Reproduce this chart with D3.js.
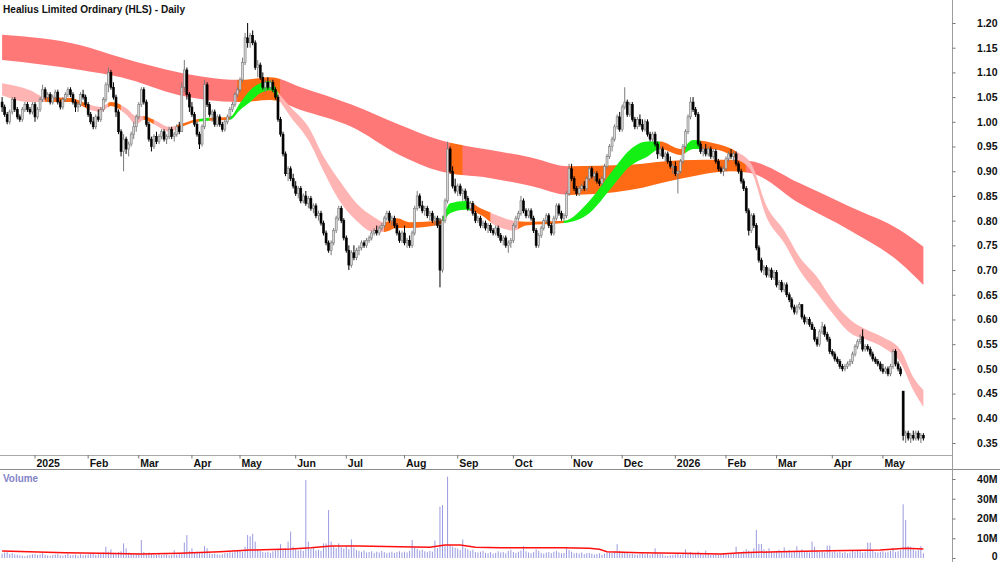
<!DOCTYPE html>
<html>
<head>
<meta charset="utf-8">
<script src="https://cdn.jsdelivr.net/npm/d3@7"></script>
<style>
body { margin: 0; background: #fff; }
svg { display: block; font-family: "Liberation Sans", Arial, sans-serif; }
</style>
</head>
<body>
<svg id="chart" width="1000" height="562"></svg>
<script>
'use strict';

// daily bars per month: [open, high, low, close] in cents, then volume in millions
var dec24 = [[104,105,102,103,2.2],[103,103.5,101,101.5,2.8],[101.5,102,99.5,100,3.0],[100,102.5,99.5,102,2.0],[102,105,101.5,104.5,2.5],[104.5,105,102,102.5,1.8],[102.5,103,100.5,101,1.6],[101,101.5,100,100.5,1.4],[100.5,103,100,102.5,1.2],[102.5,104,102,103.5,0.9],[103.5,104,102,102.5,1.3],[102.5,103,101.5,102,1.6],[102,104,101.5,103.5,1.9]];
var jan25 = [[103.5,104,100,101,2.0],[101,103,100.5,102.5,1.5],[102.5,105,102,104.5,1.8],[104.5,107.5,104,106.5,2.4],[106.5,107,104.5,105,1.6],[105,106,104,105.5,1.3],[105.5,106,103.5,104,1.1],[104,105.5,103.5,105,1.5],[105,106.5,104.5,106,1.8],[106,106.5,103.5,104,2.0],[104,104.5,102.5,103,1.4],[103,105,102.5,104.5,1.2],[104.5,106,104,105.5,1.6],[105.5,107,105,106.5,2.1],[106.5,107,105,105.5,1.3],[105.5,106,103.5,104,1.5],[104,104.5,102,103,1.7],[103,104,102,103.5,1.2],[103.5,106,103,105.5,1.9],[105.5,106.5,104.5,105,1.4],[105,105.5,103,103.5,1.6]];
var feb25 = [[103.5,104,101,101.5,1.8],[101.5,102,99.5,100,2.2],[100,101,98.5,99,2.5],[99,101.5,98.5,101,1.6],[101,102.5,100,100.5,1.9],[100.5,103,100,102.5,2.4],[102.5,105,102,104.5,2.8],[104.5,108,104,107.5,5.7],[107.5,111,106,110,3.2],[110,110.5,106.5,107,4.4],[107,108,104.5,105,2.6],[105,105.5,101,102,2.0],[102,102.5,97.5,98,3.0],[98,98.5,93,94,3.4],[94,97.5,90,96.5,7.4],[96.5,97,93.5,94.5,4.9],[94.5,96,93,95.5,2.7],[95.5,98,95,97.5,2.2],[97.5,100,96.5,99,1.9],[99,101.5,98,101,2.4]];
var mar25 = [[101,104,100.5,103.5,2.6],[103.5,107,103,106.5,9.1],[106.5,107,103.5,104,3.0],[104,104.5,99,99.5,2.4],[99.5,100,96,96.5,2.8],[96.5,97,94,95,2.2],[95,97.5,94.5,97,1.8],[97,98,95.5,96,1.6],[96,97.5,95.5,97,2.0],[97,98.5,96.5,98,1.5],[98,98.5,96,96.5,1.7],[96.5,97.5,95.5,97,1.9],[97,99,96.5,98.5,1.4],[98.5,99,96.5,97,1.6],[97,98,96,97.5,4.0],[97.5,99.5,97,99,1.8],[99,100,97.5,98,2.0],[98,108,98,107,2.4],[107,112.5,106,110.5,7.8],[110.5,111,104.5,105.5,11.6],[105.5,106,102,103,3.5]];
var apr25 = [[103,104,101,101.5,4.9],[101.5,102,99,99.5,2.8],[99.5,100,97,97.5,3.2],[97.5,98,94.5,95.5,3.0],[95.5,99.5,95,99,2.6],[99,108.5,98.5,107.5,6.0],[107.5,108,103,103.5,4.9],[103.5,104,101,101.5,2.4],[101.5,102.5,100,102,2.0],[102,102.5,99,99.5,2.2],[99.5,101.5,99,101,1.8],[101,101.5,99,99.5,1.6],[99.5,100,98,98.5,2.0],[98.5,100.5,98,100,2.4],[100,101.5,99.5,101,2.6],[101,103,100.5,102.5,3.0],[102.5,104,102,103.5,2.8],[103.5,106,103,105.5,3.4],[105.5,107,105,106.5,3.6]];
var may25 = [[106.5,109,106,108.5,3.8],[108.5,113,108,112,3.2],[112,118,111.5,117,5.7],[117,120,115,116,11.6],[116,118,115,117.5,11.0],[117.5,118.5,115.5,116,12.3],[116,116.5,110.5,111,8.3],[111,112.5,109,111.5,4.4],[111.5,112,108.5,109,3.6],[109,110,106.5,107,3.0],[107,108.5,106,108,2.8],[108,109,106.5,107,3.2],[107,108.5,106.5,108,2.6],[108,108.5,106,106.5,3.4],[106.5,107,104.5,105,3.8],[105,105.5,100,100.5,4.2],[100.5,101,97,97.5,7.0],[97.5,98,93,93.5,4.6],[93.5,94,89,89.5,5.0],[89.5,91,88,90.5,8.3],[90.5,91,88,88.5,13.4],[88.5,89.5,86.5,87,5.7]];
var jun25 = [[87,88,85,85.5,4.4],[85.5,87,84.5,86.5,3.8],[86.5,87,83.5,84,4.2],[84,85.5,83.5,85,3.6],[85,86,83,83.5,39.5],[83.5,85,82.5,84.5,8.3],[84.5,85,82,82.5,4.6],[82.5,83.5,81.5,83,5.0],[83,83.5,80.5,81,3.8],[81,82,80,81.5,4.2],[81.5,82,79,79.5,3.6],[79.5,80,77,77.5,7.4],[77.5,78,75,75.5,7.4],[75.5,76,73.5,74,24.3],[74,76,73,75.5,8.3],[75.5,78.5,75,78,6.2],[78,81,77.5,80.5,5.0],[80.5,83,80,82.5,7.4],[82.5,83,79.5,80,5.4],[80,80.5,76,76.5,4.8]];
var jul25 = [[76.5,77,73.5,74,6.0],[74,75,70,71,4.4],[71,74,70.5,73.5,9.4],[73.5,75,72,72.5,5.2],[72.5,74.5,72,74,4.0],[74,75,73,74.5,3.6],[74.5,76,74,75.5,3.2],[75.5,76,74.5,75,3.8],[75,76.5,74.5,76,2.8],[76,77,75.5,76.5,3.0],[76.5,78,76,77.5,3.4],[77.5,78.5,77,78,2.6],[78,79,77,77.5,3.2],[77.5,79,77,78.5,2.8],[78.5,79.5,78,79,3.6],[79,81,78.5,80.5,3.0],[80.5,82,80,81.5,2.4],[81.5,82,79.5,80,2.8],[80,81,79,80.5,3.2],[80.5,81,78.5,79,2.6],[79,79.5,77,77.5,3.0],[77.5,78,75.5,76,3.4],[76,78,75.5,77.5,2.8]];
var aug25 = [[77.5,79,75,75.5,3.2],[75.5,76.5,74.5,76,2.8],[76,77,74.5,75,3.6],[75,78,74.5,77.5,9.1],[77.5,83,77,82.5,5.4],[82.5,86,82,85,4.6],[85,85.5,82.5,83,3.8],[83,84,81.5,82,4.2],[82,83,81,82.5,3.4],[82.5,83,80.5,81,3.0],[81,82,80,81.5,3.6],[81.5,82,79.5,80,3.2],[80,81,79,80.5,8.8],[80.5,81,78.5,79,5.0],[79,80.5,66.5,70,26.0],[70,81,69.5,80,26.8],[80,84.5,79.5,84,6.0],[84,96,83.5,94.5,41.2],[94.5,95,89.5,90,6.6],[90,91,86.5,87,5.8],[87,88.5,85.5,86,5.2]];
var sep25 = [[86,87.5,85,87,4.8],[87,87.5,85,85.5,4.0],[85.5,86.5,84,86,9.4],[86,86.5,84,84.5,5.0],[84.5,85,82,82.5,4.4],[82.5,84,82,83.5,3.6],[83.5,84,81,81.5,4.2],[81.5,82,79.5,80,3.0],[80,81,79.5,80.5,2.8],[80.5,81,78.5,79,3.2],[79,80,78.5,79.5,3.6],[79.5,80,78,78.5,2.6],[78.5,79.5,77.5,79,2.4],[79,79.5,77.5,78,3.0],[78,78.5,77,77.5,2.2],[77.5,79,77,78.5,2.6],[78.5,79,76.5,77,3.4],[77,77.5,75.5,76,2.8],[76,77,75,76.5,3.0],[76.5,77,74.5,75,2.4],[75,76,73.5,75.5,3.6],[75.5,76.5,74.5,76,4.2]];
var oct25 = [[76,79.5,75.5,79,3.0],[79,81,78.5,80.5,2.6],[80.5,82,80,81.5,3.2],[81.5,85,81,84,3.8],[84,84.5,81.5,82,6.0],[82,82.5,80.5,81,3.4],[81,82.5,80.5,82,2.8],[82,82.5,80,80.5,2.4],[80.5,81,77.5,78,3.0],[78,78.5,74.5,75,4.4],[75,77.5,74.5,77,3.6],[77,79,76.5,78.5,2.6],[78.5,80.5,78,80,2.2],[80,81.5,79.5,81,2.8],[81,81.5,78.5,79,3.0],[79,79.5,77,77.5,2.4],[77.5,81,77,80.5,3.2],[80.5,83.5,80,83,3.6],[83,83.5,81,81.5,2.8],[81.5,82,80,80.5,2.4],[80.5,81.5,80,81,2.6],[81,86,80.5,85.5,4.9],[85.5,91.5,85,90.5,4.0]];
var nov25 = [[90.5,91.5,88,88.5,3.2],[88.5,89,86,86.5,2.4],[86.5,87,85,85.5,2.6],[85.5,87,85,86.5,2.2],[86.5,87.5,86,87,2.8],[87,88,86,86.5,2.0],[86.5,89,86,88.5,2.4],[88.5,91,88,90.5,2.6],[90.5,91,88.5,89,2.2],[89,90,88,89.5,1.8],[89.5,90,87.5,88,2.0],[88,88.5,87,87.5,2.4],[87.5,89,87,88.5,1.6],[88.5,91.5,88,91,2.2],[91,93.5,90.5,93,2.8],[93,95.5,92.5,95,3.0],[95,97,94,96.5,2.6],[96.5,99.5,96,99,3.4],[99,101.5,98.5,101,7.0],[101,102,98,98.5,3.6]];
var dec25 = [[98.5,103.5,98,103,3.0],[103,107,102.5,104,2.6],[104,104.5,101,101.5,2.4],[101.5,104,101,103.5,2.0],[103.5,104,100,100.5,2.2],[100.5,101,98.5,99,1.8],[99,101,98.5,100.5,1.6],[100.5,101.5,99,99.5,2.0],[99.5,100.5,98,98.5,2.4],[98.5,100.5,98,100,1.8],[100,100.5,97,97.5,2.2],[97.5,98,96,96.5,1.6],[96.5,98,96,97.5,2.0],[97.5,98,95,95.5,4.9],[95.5,96,92.5,93.5,2.4],[93.5,95,93,94.5,2.0],[94.5,95,92.5,93,1.8],[93,94,92,93.5,1.2],[93.5,94,91.5,92,1.0],[92,93,90.5,91,1.4],[91,91.5,89.5,91,1.6]];
var jan26 = [[91,92,89,89.5,1.8],[89.5,90,85.5,90,2.4],[90,92.5,89.5,92,1.6],[92,95.5,91.5,95,2.0],[95,98.5,94.5,98,4.4],[98,101.5,97.5,101,2.6],[101,105,100.5,104,3.0],[104,105,102,102.5,2.4],[102.5,103,101,101.5,2.0],[101.5,102,95,95.5,3.2],[95.5,96,93.5,94,2.2],[94,95,93,94.5,1.8],[94.5,95.5,93,93.5,3.7],[93.5,95,93,94.5,2.0],[94.5,95,92.5,93,1.6],[93,94.5,92.5,94,1.8],[94,94.5,91.5,92,2.2],[92,92.5,90,90.5,1.6],[90.5,91,89.5,90,2.0],[90,91,89,90.5,2.4]];
var feb26 = [[90.5,93,90,92.5,2.0],[92.5,94,92,93.5,1.8],[93.5,94.5,92.5,93,2.4],[93,94,92,93.5,2.2],[93.5,94,91,91.5,5.7],[91.5,92,89.5,90,2.6],[90,90.5,87.5,88,3.0],[88,88.5,86,86.5,3.4],[86.5,87,81.5,82,4.4],[82,82.5,77,78,3.8],[78,81.5,77.5,81,3.2],[81,81.5,78.5,79,4.9],[79,79.5,74,74.5,14.2],[74.5,75,71.5,72,7.1],[72,72.5,69.5,70,7.1],[70,71,69,70.5,4.4],[70.5,71,68.5,69,3.6],[69,70.5,68.5,70,4.9],[70,70.5,68,68.5,3.2],[68.5,70,68,69.5,3.0]];
var mar26 = [[69.5,70,66.5,67,3.6],[67,68,66,67.5,4.2],[67.5,68,65.5,66,3.0],[66,67.5,65.5,67,5.4],[67,67.5,64.5,65,3.4],[65,65.5,63.5,64,4.0],[64,64.5,62,62.5,2.8],[62.5,63,61,61.5,3.2],[61.5,63,61,62.5,6.0],[62.5,63.5,62,63,3.6],[63,63,60,60.5,4.4],[60.5,61,59,59.5,3.0],[59.5,60.5,59,60,3.2],[60,60.5,58.5,59,2.8],[59,59.5,58,58,8.3],[58,58.5,55.5,56,5.7],[56,56.5,54.5,55,3.6],[55,58,54.5,57.5,3.0],[57.5,59.5,57,58.5,3.4],[58.5,59,56.5,57,2.8],[57,57.5,55.5,56,6.3],[56,56.5,53,53.5,6.3]];
var apr26 = [[53.5,54,52.5,53,3.0],[53,53.5,51.5,52,3.4],[52,52.5,51,51.5,2.8],[51.5,52,50,50.5,3.2],[50.5,51,49.5,50,2.6],[50,51,49.5,50.5,3.0],[50.5,51.5,50,51,2.4],[51,52,50.5,51.5,2.8],[51.5,53.5,51,53,3.6],[53,55,52.5,54.5,3.2],[54.5,56,54,55.5,4.0],[55.5,57,55,56,3.4],[56.5,58,53.5,54,2.8],[54,55,53.5,54.5,3.2],[54.5,55,53.5,54,7.8],[54,54.5,52.5,53,7.8],[53,53.5,51.5,52,3.6],[52,52.5,51,51.5,3.0],[51.5,52,50.5,51,2.8],[51,51.5,49.5,50,3.2]];
var may26 = [[50,51,49,49.5,3.4],[49.5,50.5,49,50,2.8],[50,50.5,48.5,49,3.2],[49,51,48.5,50.5,3.6],[50.5,54,50,53.5,5.2],[53.5,54,50.5,51,3.0],[51,51.5,49.5,50,3.4],[50,50.5,48.5,49,4.0],[45.5,45.5,35.5,36.5,27.2],[36.5,37.5,35,37,19.2],[37,37.5,35.5,36,6.0],[36,37,35,36.5,5.7],[36.5,37.5,35.5,36,4.4],[36,37.5,35.5,37,3.6],[37,37.5,35.5,36,4.0],[36,37,35,36.5,6.0],[36.5,37,35.5,36,2.4]];

var monthBars = [dec24, jan25, feb25, mar25, apr25, may25, jun25, jul25, aug25, sep25, oct25, nov25, dec25, jan26, feb26, mar26, apr26, may26];
var monthLabels = ['', '2025', 'Feb', 'Mar', 'Apr', 'May', 'Jun', 'Jul', 'Aug', 'Sep', 'Oct', 'Nov', 'Dec', '2026', 'Feb', 'Mar', 'Apr', 'May'];

// long-term ribbon (bar index, upper, lower)
var longIdx = [0,31,47,70,94,106,118,138,157,173,193,209,224,248,268,288,296,315,335,355,364];
var longHi = [1.176,1.155,1.130,1.100,1.085,1.090,1.070,1.035,0.994,0.963,0.943,0.928,0.910,0.913,0.922,0.923,0.920,0.876,0.828,0.780,0.747];
var longLo = [1.125,1.105,1.090,1.054,1.040,1.044,1.024,0.990,0.933,0.900,0.886,0.870,0.852,0.862,0.885,0.900,0.896,0.835,0.780,0.714,0.670];
var longSegs = [[0,93,'red'],[93,110,'orange'],[110,177,'red'],[177,182,'orange'],[182,224,'red'],[224,294,'orange'],[294,364,'red']];

// short-term ribbon
var shortIdx = [0,11,17,27,35,39,43,49,53,56,60,66,71,76,82,90,94,98,102,106,109,114,121,127,134,140,147,151,156,161,173,177,183,189,195,202,207,222,232,241,248,255,260,268,273,280,290,296,302,309,315,322,328,335,342,348,355,360,364];
var shortHi = [1.078,1.064,1.050,1.048,1.034,1.030,1.040,1.028,1.012,1.012,1.004,0.990,0.996,1.004,1.008,1.010,1.038,1.064,1.078,1.082,1.060,1.030,0.990,0.930,0.876,0.835,0.807,0.797,0.805,0.797,0.800,0.835,0.840,0.825,0.812,0.800,0.798,0.800,0.840,0.900,0.943,0.960,0.960,0.945,0.963,0.958,0.940,0.915,0.830,0.780,0.727,0.686,0.640,0.600,0.578,0.564,0.538,0.483,0.457];
var shortLo = [1.054,1.040,1.040,1.040,1.024,1.020,1.032,1.015,0.995,1.004,0.995,0.980,0.990,0.999,1.002,1.004,1.024,1.040,1.058,1.064,1.046,1.010,0.963,0.900,0.835,0.800,0.777,0.777,0.785,0.785,0.792,0.815,0.822,0.812,0.790,0.780,0.790,0.795,0.815,0.868,0.910,0.930,0.945,0.933,0.945,0.945,0.926,0.900,0.807,0.755,0.700,0.653,0.613,0.573,0.558,0.544,0.512,0.457,0.423];
var shortSegs = [[0,17,'pink'],[17,34,'orange'],[34,42,'pink'],[42,47,'orange'],[47,56,'pink'],[56,60,'orange'],[60,69,'pink'],[69,78,'orange'],[78,82,'green'],[82,90,'orange'],[90,109,'green'],[109,151,'pink'],[151,174,'orange'],[174,185,'green'],[185,193,'orange'],[193,204,'pink'],[204,222,'orange'],[222,260,'green'],[260,270,'orange'],[270,276,'green'],[276,290,'orange'],[290,364,'pink']];

// volume moving average
var volMaIdx = [0,25,39,55,70,86,98,114,122,130,141,157,169,175,181,187,197,209,221,232,236,239,252,268,284,292,307,327,347,357,364];
var volMa = [3.5,2.7,2.4,2.0,2.4,3.2,4.0,4.6,5.2,6.1,6.1,5.7,5.4,6.6,6.6,5.4,5.2,5.2,5.2,4.9,4.4,3.2,2.7,2.4,2.0,2.7,3.2,3.7,4.0,4.9,4.6];

var priceTicks = d3.range(35, 121, 5).map(function (d) { return d / 100; });
var volTicks = [0, 10, 20, 30, 40];

var colors = { red: '#ff7878', pink: '#ffb4b4', orange: '#ff6a14', green: '#14f014' };

//flatten months into one bar list and remember where each month starts
var bars = [], monthStarts = [];
monthBars.forEach(function (m, k) {
    monthStarts.push({ i: bars.length, label: monthLabels[k] });
    m.forEach(function (b) {
        bars.push({ o: b[0] / 100, h: b[1] / 100, l: b[2] / 100, c: b[3] / 100, v: b[4] });
    });
});

var svg = d3.select('#chart');
var axisX = 952;

var x = d3.scaleLinear().domain([0, bars.length - 1]).range([2.1, 923.4]);
var y = d3.scaleLinear().domain([0.35, 1.20]).range([443, 23]);
var vy = d3.scaleLinear().domain([0, 40]).range([558, 479]);

var defs = svg.append('defs');
var clipN = 0;

//draw a ribbon with coloured pieces, each clipped to its bar range
function drawRibbon(idx, hi, lo, segs) {
    var pts = idx.map(function (d, k) { return { i: d, hi: hi[k], lo: lo[k] }; });
    var area = d3.area()
        .x(function (d) { return x(d.i); })
        .y0(function (d) { return y(d.lo); })
        .y1(function (d) { return y(d.hi); })
        .curve(d3.curveMonotoneX);
    segs.forEach(function (s) {
        var id = 'clip' + (clipN++);
        var x0 = s[0] === 0 ? x(s[0]) - 3 : x(s[0]);
        var x1 = s[1] === bars.length - 1 ? x(s[1]) + 1.5 : x(s[1]);
        defs.append('clipPath').attr('id', id)
            .append('rect')
            .attr('x', x0 - 0.3).attr('y', 0)
            .attr('width', x1 - x0 + 0.6).attr('height', 455);
        svg.append('path')
            .attr('d', area(pts))
            .attr('clip-path', 'url(#' + id + ')')
            .style('fill', colors[s[2]]);
    });
}

drawRibbon(longIdx, longHi, longLo, longSegs);
drawRibbon(shortIdx, shortHi, shortLo, shortSegs);

//candles
var candle = svg.append('g').selectAll('g').data(bars).enter().append('g');
candle.append('line')
    .attr('x1', function (d, i) { return x(i); })
    .attr('x2', function (d, i) { return x(i); })
    .attr('y1', function (d) { return y(d.h); })
    .attr('y2', function (d) { return y(d.l); })
    .style('stroke', function (d) { return d.c >= d.o ? '#7a7a7a' : '#000'; })
    .style('stroke-width', 1);
candle.append('rect')
    .attr('x', function (d, i) { return x(i) - 1; })
    .attr('width', 2)
    .attr('y', function (d) { return y(Math.max(d.o, d.c)); })
    .attr('height', function (d) { return Math.max(1, y(Math.min(d.o, d.c)) - y(Math.max(d.o, d.c))); })
    .style('fill', function (d) { return d.c >= d.o ? '#d6d6d6' : '#000'; })
    .style('stroke', function (d) { return d.c >= d.o ? '#7a7a7a' : '#000'; })
    .style('stroke-width', 0.6);

//volume bars and average
svg.append('g').selectAll('line').data(bars).enter().append('line')
    .attr('x1', function (d, i) { return x(i); })
    .attr('x2', function (d, i) { return x(i); })
    .attr('y1', vy(0))
    .attr('y2', function (d) { return vy(d.v); })
    .style('stroke', '#9a9ae0')
    .style('stroke-width', 1);

svg.append('path')
    .datum(volMaIdx.map(function (d, k) { return [d, volMa[k]]; }))
    .attr('d', d3.line()
        .x(function (d) { return x(d[0]); })
        .y(function (d) { return vy(d[1]); }))
    .style('fill', 'none')
    .style('stroke', '#ff1010')
    .style('stroke-width', 1.5);

//frame lines
svg.append('line').attr('x1', 0).attr('x2', axisX).attr('y1', 455.5).attr('y2', 455.5)
    .style('stroke', '#a8a8a8');
svg.append('line').attr('x1', 0).attr('x2', 1000).attr('y1', 469.5).attr('y2', 469.5)
    .style('stroke', '#8c8c8c');
svg.append('line').attr('x1', axisX + 0.5).attr('x2', axisX + 0.5).attr('y1', 0).attr('y2', 562)
    .style('stroke', '#9c9c9c');

//right axes
function styleAxis(g) {
    g.select('.domain').remove();
    g.selectAll('.tick line').style('stroke', '#777');
    g.selectAll('.tick text')
        .attr('x', 45)
        .style('text-anchor', 'end')
        .style('font-size', '10.5px')
        .style('font-weight', 'bold')
        .style('fill', '#111');
}
svg.append('g')
    .attr('transform', 'translate(' + (axisX + 0.5) + ',0)')
    .call(d3.axisRight(y).tickValues(priceTicks).tickSize(3).tickFormat(d3.format('.2f')))
    .call(styleAxis);
var volAxis = svg.append('g')
    .attr('transform', 'translate(' + (axisX + 0.5) + ',0)')
    .call(d3.axisRight(vy).tickValues(volTicks).tickSize(3)
        .tickFormat(function (d) { return d ? d + 'M' : '0'; }))
    .call(styleAxis);
//keep the zero label inside the picture
volAxis.selectAll('.tick text')
    .filter(function (d) { return d === 0; })
    .attr('dy', '0.1em');

//month ticks and labels
var months = svg.append('g').selectAll('g')
    .data(monthStarts.filter(function (d) { return d.label; }))
    .enter().append('g')
    .attr('transform', function (d) { return 'translate(' + x(d.i) + ',0)'; });
months.append('line').attr('y1', 455).attr('y2', 458.5).style('stroke', '#777');
months.append('text')
    .attr('x', 1.5).attr('y', 466.5)
    .text(function (d) { return d.label; })
    .style('font-size', '10.5px')
    .style('font-weight', 'bold')
    .style('fill', '#111');

//titles
svg.append('text')
    .attr('x', 3).attr('y', 13)
    .attr('textLength', 182).attr('lengthAdjust', 'spacingAndGlyphs')
    .text('Healius Limited Ordinary (HLS) - Daily')
    .style('font-size', '11.5px')
    .style('font-weight', 'bold')
    .style('fill', '#111');
svg.append('text')
    .attr('x', 3).attr('y', 482)
    .attr('textLength', 35).attr('lengthAdjust', 'spacingAndGlyphs')
    .text('Volume')
    .style('font-size', '11px')
    .style('font-weight', 'bold')
    .style('fill', '#8484c8');
</script>
</body>
</html>
